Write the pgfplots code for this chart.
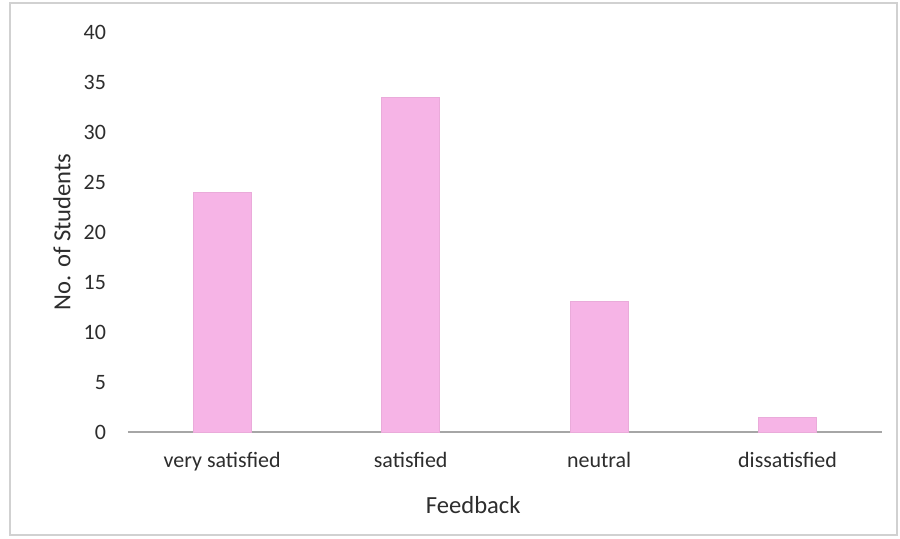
\documentclass[border=0pt]{standalone}
\usepackage{fontspec}
\setmainfont{Carlito}
\usepackage{pgfplots}
\pgfplotsset{compat=1.18}
\definecolor{barpink}{RGB}{246,180,230}
\definecolor{txt}{RGB}{45,45,45}

\begin{document}
\begin{tikzpicture}[x=0.02cm,y=0.02cm]
\useasboundingbox (0,0) rectangle (900,538);
\fill[white] (0,0) rectangle (900,538);
\draw[black!18, line width=0.8pt] (10,3) rectangle (897,535);
\begin{axis}[
    at={(2.56cm,2.12cm)}, anchor=south west,
    scale only axis,
    width=15.08cm, height=8cm,
    xmin=-0.5, xmax=3.5,
    ymin=0, ymax=40,
    ytick={0,5,...,40},
    xtick={0,1,2,3},
    xticklabels={very satisfied,satisfied,neutral,dissatisfied},
    axis x line=bottom,
    axis y line=left,
    x axis line style={-, draw=black!35, line width=0.8pt},
    y axis line style={draw=none},
    major tick length=0pt,
    tick label style={font=\fontsize{12.5}{14}\selectfont, text=txt},
    /pgf/number format/assume math mode=true,
    yticklabel style={xshift=-9pt},
    xticklabel style={yshift=-8pt},
    xlabel={Feedback},
    ylabel={No. of Students},
    label style={font=\fontsize{14}{16}\selectfont, text=txt},
    xlabel style={at={(axis description cs:0.458,-0.183)}, anchor=center},
    ylabel style={at={(axis description cs:-0.0875,0.5)}, anchor=center},
    clip=false,
]
\addplot[ybar, bar width=1.16cm, fill=barpink, draw=barpink!95!black, line width=0.3pt]
  coordinates {(0,24) (1,33.5) (2,13.1) (3,1.5)};
\end{axis}
\end{tikzpicture}
\end{document}
